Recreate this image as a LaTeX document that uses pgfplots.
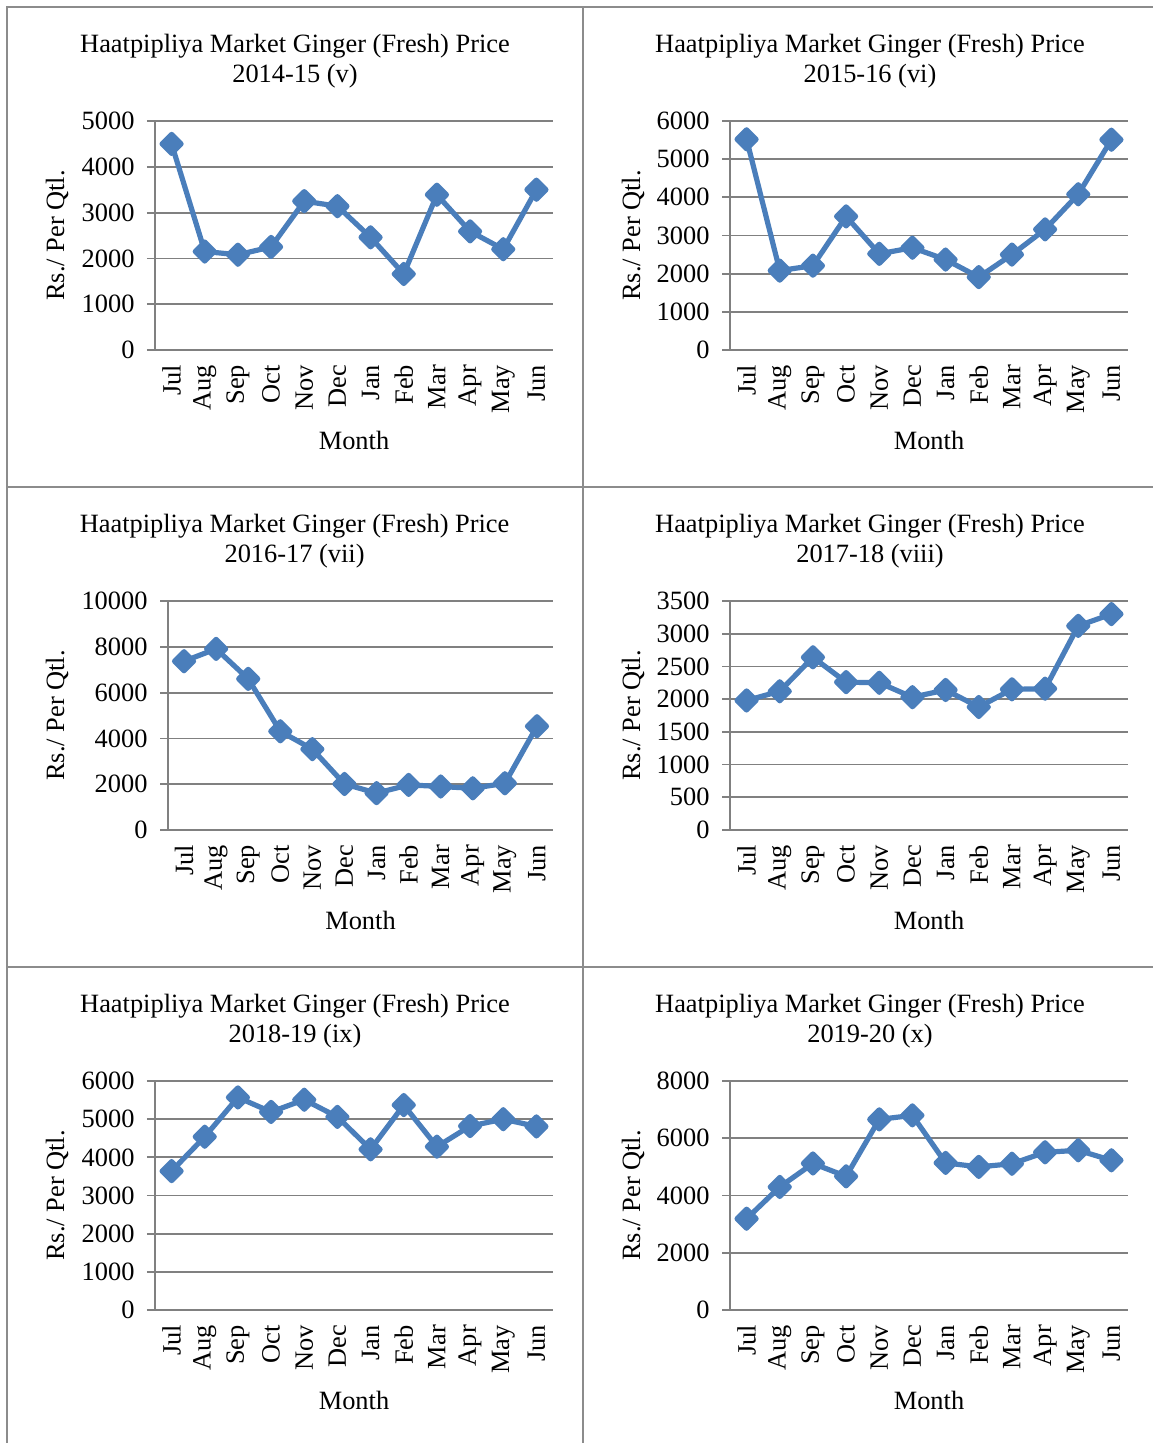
\documentclass[border=0pt]{standalone}
\usepackage{fontspec}
\setmainfont{Liberation Serif}
\usepackage{pgfplots}
\pgfplotsset{compat=1.18}
\definecolor{ser}{RGB}{74,126,187}
\definecolor{grd}{RGB}{128,128,128}
\definecolor{tbl}{RGB}{140,140,140}
\newcommand{\ff}{\fontsize{13.2}{15}\selectfont}
\pgfplotsset{
  gpanel/.style={
    scale only axis, width=199pt, height=114.5pt,
    anchor=south west,
    xmin=-0.5, xmax=11.5, ymin=0,
    xtick={0,...,11},
    xticklabels={Jul,Aug,Sep,Oct,Nov,Dec,Jan,Feb,Mar,Apr,May,Jun},
    axis x line*=bottom, axis y line*=left,
    axis line style={grd, line width=0.9pt, -},
    ymajorgrids, grid style={grd, line width=0.9pt},
    tick align=outside, major tick length=4pt,
    x tick style={draw=none},
    y tick style={grd, line width=0.9pt},
    tick label style={font=\ff},
    xticklabel style={rotate=90, anchor=east},
    yticklabel style={xshift=-2.7pt},
    /pgf/number format/assume math mode=true,
    /pgf/number format/1000 sep={},
    scaled y ticks=false,
    xlabel={Month}, ylabel={Rs./ Per Qtl.},
    label style={font=\ff},
    xlabel style={at={(axis description cs:0.5,-0.393)}, anchor=center},
    clip=false,
  },
  ylab/.style={ylabel style={at={(axis description cs:#1,0.5)}, anchor=center, rotate=0}},
  gline/.style={ser, line width=2.6pt, line join=round, mark=diamond*, mark size=4.75pt,
    mark options={solid, fill=ser, draw=none, xscale=1.333}},
}
\begin{document}
\begin{tikzpicture}
\path[use as bounding box] (0pt,0pt) rectangle (576.5pt,-721.5pt);
% table rules
\draw[tbl, line width=1pt] (3.5pt,-721.5pt) -- (3.5pt,-3.5pt) -- (576.5pt,-3.5pt);
\draw[tbl, line width=1pt] (291.5pt,-721.5pt) -- (291.5pt,-3.5pt);
\draw[tbl, line width=1pt] (3.5pt,-243.5pt) -- (576.5pt,-243.5pt);
\draw[tbl, line width=1pt] (3.5pt,-483.5pt) -- (576.5pt,-483.5pt);
% titles
\node[align=center, font=\ff] at (147.5pt,-30.5pt) {Haatpipliya Market Ginger (Fresh) Price\\2014-15 (v)};
\node[align=center, font=\ff] at (435pt,-30.5pt) {Haatpipliya Market Ginger (Fresh) Price\\2015-16 (vi)};
\node[align=center, font=\ff] at (147.3pt,-270.5pt) {Haatpipliya Market Ginger (Fresh) Price\\2016-17 (vii)};
\node[align=center, font=\ff] at (435pt,-270.5pt) {Haatpipliya Market Ginger (Fresh) Price\\2017-18 (viii)};
\node[align=center, font=\ff] at (147.5pt,-510.5pt) {Haatpipliya Market Ginger (Fresh) Price\\2018-19 (ix)};
\node[align=center, font=\ff] at (435pt,-510.5pt) {Haatpipliya Market Ginger (Fresh) Price\\2019-20 (x)};

\begin{axis}[gpanel, ylab=-0.2462, at={(77.5pt,-175pt)}, ymax=5000, ytick={0,1000,...,5000}]
\addplot[gline] coordinates {(0,4500)(1,2150)(2,2080)(3,2250)(4,3250)(5,3140)(6,2460)(7,1660)(8,3390)(9,2590)(10,2200)(11,3500)};
\end{axis}
\begin{axis}[gpanel, ylab=-0.2437, at={(365pt,-175pt)}, ymax=6000, ytick={0,1000,...,6000}]
\addplot[gline] coordinates {(0,5520)(1,2080)(2,2210)(3,3500)(4,2520)(5,2680)(6,2370)(7,1910)(8,2500)(9,3160)(10,4080)(11,5510)};
\end{axis}
\begin{axis}[gpanel, width=192.5pt, ylab=-0.2883, at={(84pt,-415pt)}, ymax=10000, ytick={0,2000,...,10000}]
\addplot[gline] coordinates {(0,7370)(1,7910)(2,6600)(3,4310)(4,3530)(5,2010)(6,1610)(7,1970)(8,1900)(9,1820)(10,2040)(11,4530)};
\end{axis}
\begin{axis}[gpanel, ylab=-0.2437, at={(365pt,-415pt)}, ymax=3500, ytick={0,500,...,3500}]
\addplot[gline] coordinates {(0,1980)(1,2120)(2,2640)(3,2260)(4,2250)(5,2030)(6,2140)(7,1880)(8,2150)(9,2160)(10,3120)(11,3300)};
\end{axis}
\begin{axis}[gpanel, ylab=-0.2462, at={(77.5pt,-655pt)}, ymax=6000, ytick={0,1000,...,6000}]
\addplot[gline] coordinates {(0,3640)(1,4540)(2,5570)(3,5190)(4,5510)(5,5060)(6,4210)(7,5370)(8,4280)(9,4820)(10,5000)(11,4810)};
\end{axis}
\begin{axis}[gpanel, ylab=-0.2437, at={(365pt,-655pt)}, ymax=8000, ytick={0,2000,...,8000}]
\addplot[gline] coordinates {(0,3190)(1,4300)(2,5120)(3,4670)(4,6660)(5,6800)(6,5140)(7,5000)(8,5110)(9,5510)(10,5580)(11,5230)};
\end{axis}
\end{tikzpicture}
\end{document}
